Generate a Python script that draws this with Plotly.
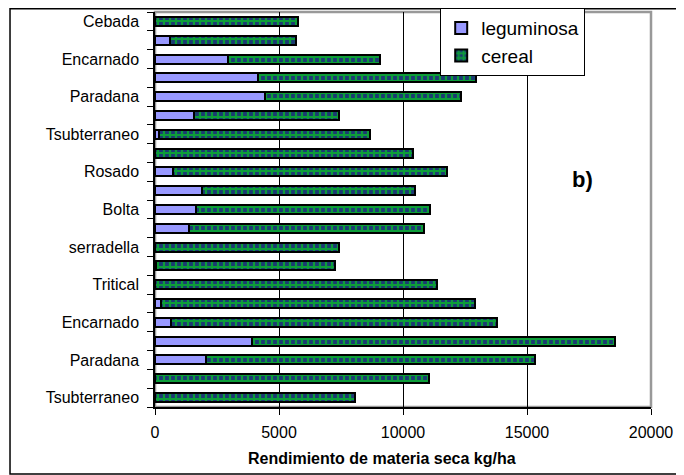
import plotly.graph_objects as go

# rows from top to bottom (only every other row has a label in the original)
rows = list(range(1, 22))
row_labels = ["Cebada", "", "Encarnado", "", "Paradana", "", "Tsubterraneo", "",
              "Rosado", "", "Bolta", "", "serradella", "", "Tritical", "",
              "Encarnado", "", "Paradana", "", "Tsubterraneo"]

leguminosa = [0, 600, 2930, 4170, 4440, 1570, 160, 0, 710, 1910, 1640,
              1360, 0, 40, 0, 230, 630, 3930, 2040, 0, 0]
cereal = [5770, 5070, 6160, 8790, 7900, 5850, 8500, 10390, 11060, 8590, 9460,
          9500, 7430, 7220, 11370, 12690, 13160, 14610, 13300, 11040, 8050]

x_ticks = [0, 5000, 10000, 15000, 20000]
x_tick_text = ["0", "5000", "10000", "15000", "20000"]

tick_rows = [r for r, lab in zip(rows, row_labels) if lab]
tick_text = [lab for lab in row_labels if lab]

fig = go.Figure()
fig.add_trace(go.Bar(
    name="leguminosa", y=rows, x=leguminosa, orientation="h",
    marker=dict(color="#9999FF", line=dict(color="black", width=2)),
))
fig.add_trace(go.Bar(
    name="cereal", y=rows, x=cereal, orientation="h",
    marker=dict(color="#1B3A73", line=dict(color="black", width=2),
                pattern=dict(shape="+", fgcolor="#00FF00", bgcolor="#1B3A73",
                             size=6, solidity=0.6)),
))

# page body adds an 8px offset, so the figure is 8px smaller than the window
fig.update_layout(
    width=676, height=467,
    barmode="stack", bargap=0.52,
    plot_bgcolor="white", paper_bgcolor="white",
    margin=dict(l=147, r=33, t=4, b=68, autoexpand=False),
    font=dict(family="Liberation Sans, Arial", color="black"),
    showlegend=True,
    legend=dict(x=0.575, y=1.01, xanchor="left", yanchor="top",
                traceorder="normal",
                bgcolor="white", bordercolor="black", borderwidth=1,
                font=dict(size=19), itemwidth=30, tracegroupgap=0),
)

fig.update_xaxes(
    range=[0, 20000], tickvals=x_ticks, ticktext=x_tick_text,
    showgrid=True, gridcolor="black", gridwidth=1,
    showline=True, linecolor="black", linewidth=1.5,
    ticks="outside", ticklen=6, tickcolor="black",
    tickfont=dict(size=16), ticklabelstandoff=4, automargin=False,
    zeroline=False,
)
fig.update_yaxes(
    range=[21.5, 0.5], tickvals=tick_rows, ticktext=tick_text,
    showgrid=False, zeroline=False,
    showline=True, linecolor="black", linewidth=1.5,
    ticks="", tickfont=dict(size=16), ticklabelstandoff=11,
    automargin=False,
    minor=dict(ticks="outside", tick0=0.5, dtick=1, ticklen=6,
               tickcolor="black", showgrid=False),
)

# plot area border (gray) and outer chart border
fig.add_shape(type="rect", xref="paper", yref="paper", x0=0, x1=1, y0=0, y1=1,
              line=dict(color="#999999", width=2.5), layer="below")
fig.add_shape(type="rect", xref="paper", yref="paper",
              x0=-0.2923, x1=1.0585, y0=-0.1696, y1=1.008,
              line=dict(color="black", width=1.5))

fig.add_annotation(text="<b>Rendimiento de materia seca kg/ha</b>",
                   xref="paper", yref="paper", x=0.4577, y=-0.1316,
                   xanchor="center", yanchor="middle",
                   showarrow=False, font=dict(size=16))
fig.add_annotation(text="<b>b)</b>", xref="paper", yref="paper",
                   x=0.861, y=0.575, xanchor="center", yanchor="middle",
                   showarrow=False, font=dict(size=22))

fig.write_html("out.html")
